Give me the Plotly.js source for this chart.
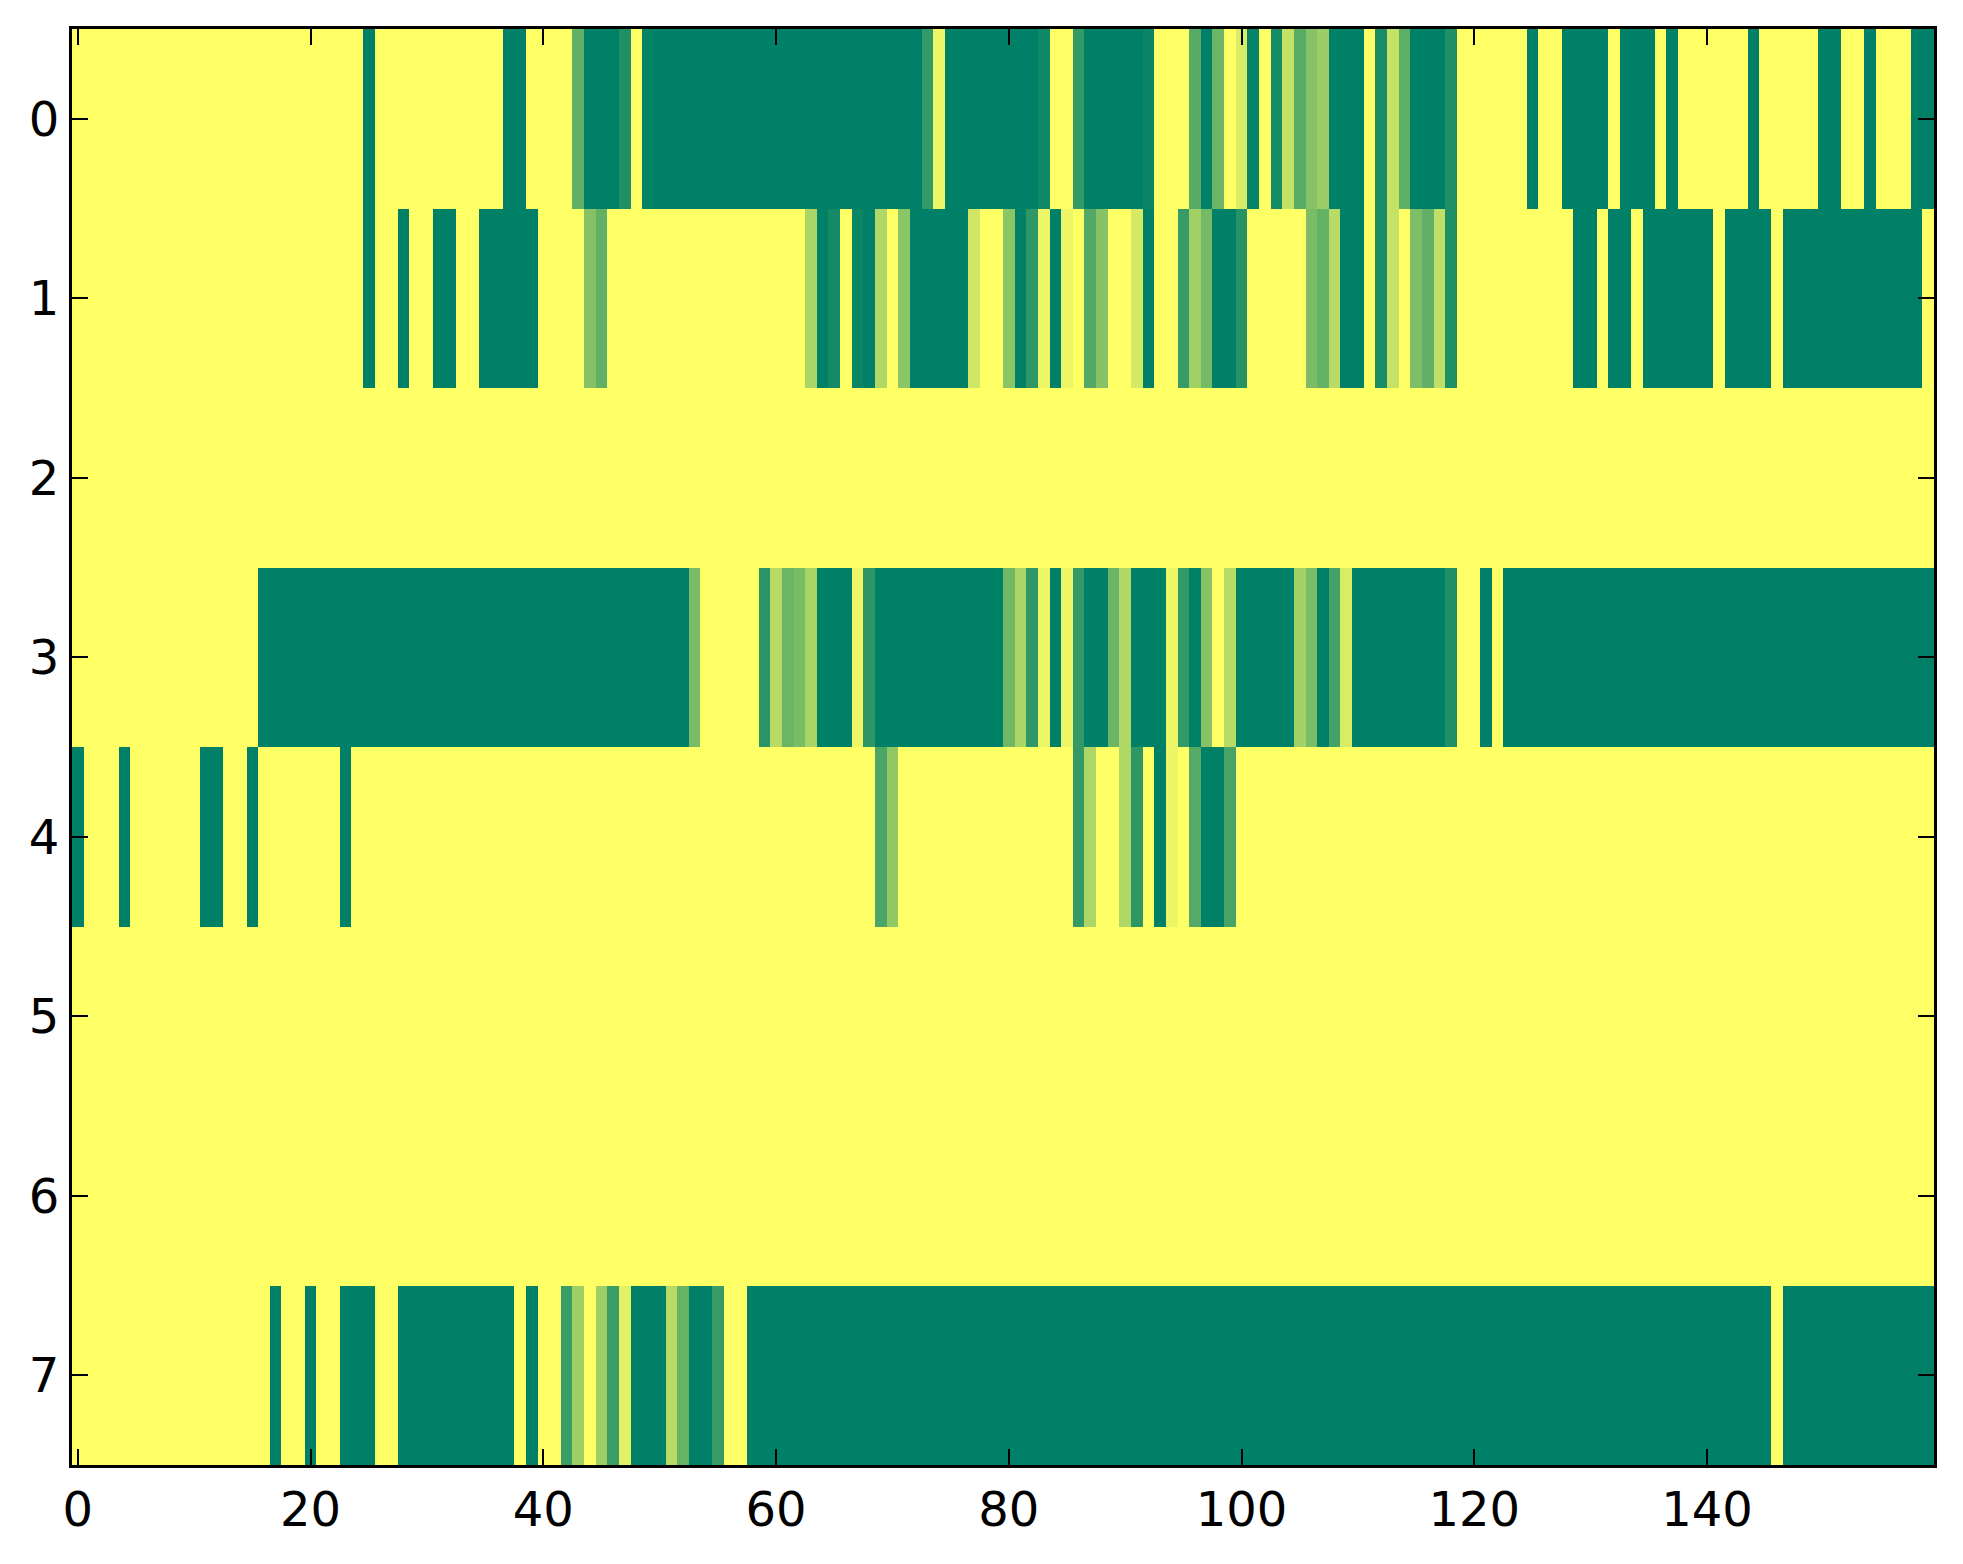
<!DOCTYPE html>
<html>
<head>
<meta charset="utf-8">
<script src="https://cdn.plot.ly/plotly-3.0.1.min.js"></script>
<style>html,body{margin:0;padding:0;background:#fff;}#chart{width:1963px;height:1564px;}</style>
</head>
<body>
<div id="chart"></div>
<script>
// column index 0..159 and row index 0..7
const columns = [0,1,2,3,4,5,6,7,8,9,10,11,12,13,14,15,16,17,18,19,20,21,22,23,24,25,26,27,28,29,30,31,32,33,34,35,36,37,38,39,40,41,42,43,44,45,46,47,48,49,50,51,52,53,54,55,56,57,58,59,60,61,62,63,64,65,66,67,68,69,70,71,72,73,74,75,76,77,78,79,80,81,82,83,84,85,86,87,88,89,90,91,92,93,94,95,96,97,98,99,100,101,102,103,104,105,106,107,108,109,110,111,112,113,114,115,116,117,118,119,120,121,122,123,124,125,126,127,128,129,130,131,132,133,134,135,136,137,138,139,140,141,142,143,144,145,146,147,148,149,150,151,152,153,154,155,156,157,158,159];
const rowsIdx = [0,1,2,3,4,5,6,7];
const xTickVals = [0,20,40,60,80,100,120,140];
const yTickVals = [0,1,2,3,4,5,6,7];

const row0 = [
1,1,1,1,1,1,1,1,1,1,
1,1,1,1,1,1,1,1,1,1,
1,1,1,1,1,0,1,1,1,1,
1,1,1,1,1,1,1,0,0,1,
1,1,1,0.38,0,0,0,0.12,1,0.02,
0,0,0,0,0,0,0,0,0,0,
0,0,0,0,0,0,0,0,0,0,
0,0,0,0.2,0.93,0,0,0,0,0,
0,0,0,0.06,1,1,0.2,0,0,0,
0,0,0.04,1,1,1,0.34,0,0.42,1,
0.85,0.02,1,0.09,0.77,0.35,0.53,0.61,0,0,
0,1,0.1,0.77,0.37,0,0,0,0.12,1,
1,1,1,1,1,0,1,1,0,0,
0,0,1,0,0,0,1,0,1,1,
1,1,1,1,0,1,1,1,1,1,
0,0,1,1,0,1,1,1,0,0];

const row1 = [
1,1,1,1,1,1,1,1,1,1,
1,1,1,1,1,1,1,1,1,1,
1,1,1,1,1,0,1,1,0,1,
1,0,0,1,1,0,0,0,0,0,
1,1,1,1,0.52,0.38,1,1,1,1,
1,1,1,1,1,1,1,1,1,1,
1,1,1,0.67,0,0.08,1,0.04,0,0.69,
1,0.54,0,0,0,0,0,0.81,1,1,
0.54,0,0.18,0.93,0,0.93,1,0.32,0.53,1,
1,0.83,0,1,1,0.21,0.63,0.46,0,0,
0.15,1,1,1,1,1,0.48,0.39,0.72,0,
0,1,0.1,0.77,1,0.49,0.38,0.75,0.12,1,
1,1,1,1,1,1,1,1,1,0,
0,1,0,0,1,0,0,0,0,0,
0,1,0,0,0,0,1,0,0,0,
0,0,0,0,0,0,0,0,0,1];

const row2 = [
1,1,1,1,1,1,1,1,1,1,1,1,1,1,1,1,1,1,1,1,
1,1,1,1,1,1,1,1,1,1,1,1,1,1,1,1,1,1,1,1,
1,1,1,1,1,1,1,1,1,1,1,1,1,1,1,1,1,1,1,1,
1,1,1,1,1,1,1,1,1,1,1,1,1,1,1,1,1,1,1,1,
1,1,1,1,1,1,1,1,1,1,1,1,1,1,1,1,1,1,1,1,
1,1,1,1,1,1,1,1,1,1,1,1,1,1,1,1,1,1,1,1,
1,1,1,1,1,1,1,1,1,1,1,1,1,1,1,1,1,1,1,1,
1,1,1,1,1,1,1,1,1,1,1,1,1,1,1,1,1,1,1,1];

const row3 = [
1,1,1,1,1,1,1,1,1,1,
1,1,1,1,1,1,0,0,0,0,
0,0,0,0,0,0,0,0,0,0,
0,0,0,0,0,0,0,0,0,0,
0,0,0,0,0,0,0,0,0,0,
0,0,0,0.47,1,1,1,1,1,0.16,
0.72,0.42,0.47,0.66,0,0,0,0.94,0.18,0,
0,0,0,0,0,0,0,0,0,0,
0.44,0.67,0.18,0.93,0,0.93,0.2,0,0,0.42,
0.69,0,0,0,0.93,0.2,0,0.53,1,0.72,
0,0,0,0,0,0.64,0.48,0,0.27,0.85,
0,0,0,0,0,0,0,0,0.12,1,
1,0,1,0,0,0,0,0,0,0,
0,0,0,0,0,0,0,0,0,0,
0,0,0,0,0,0,0,0,0,0,
0,0,0,0,0,0,0,0,0,0];

const row4 = [
0,1,1,1,0,1,1,1,1,1,
1,0,0,1,1,0,1,1,1,1,
1,1,1,0,1,1,1,1,1,1,
1,1,1,1,1,1,1,1,1,1,
1,1,1,1,1,1,1,1,1,1,
1,1,1,1,1,1,1,1,1,1,
1,1,1,1,1,1,1,1,1,0.29,
0.57,1,1,1,1,1,1,1,1,1,
1,1,1,1,1,1,0.2,0.68,1,1,
0.69,0.18,1,0,0.92,1,0.33,0,0,0.28,
1,1,1,1,1,1,1,1,1,1,
1,1,1,1,1,1,1,1,1,1,
1,1,1,1,1,1,1,1,1,1,
1,1,1,1,1,1,1,1,1,1,
1,1,1,1,1,1,1,1,1,1,
1,1,1,1,1,1,1,1,1,1];

const row5 = [
1,1,1,1,1,1,1,1,1,1,1,1,1,1,1,1,1,1,1,1,
1,1,1,1,1,1,1,1,1,1,1,1,1,1,1,1,1,1,1,1,
1,1,1,1,1,1,1,1,1,1,1,1,1,1,1,1,1,1,1,1,
1,1,1,1,1,1,1,1,1,1,1,1,1,1,1,1,1,1,1,1,
1,1,1,1,1,1,1,1,1,1,1,1,1,1,1,1,1,1,1,1,
1,1,1,1,1,1,1,1,1,1,1,1,1,1,1,1,1,1,1,1,
1,1,1,1,1,1,1,1,1,1,1,1,1,1,1,1,1,1,1,1,
1,1,1,1,1,1,1,1,1,1,1,1,1,1,1,1,1,1,1,1];

const row6 = [
1,1,1,1,1,1,1,1,1,1,1,1,1,1,1,1,1,1,1,1,
1,1,1,1,1,1,1,1,1,1,1,1,1,1,1,1,1,1,1,1,
1,1,1,1,1,1,1,1,1,1,1,1,1,1,1,1,1,1,1,1,
1,1,1,1,1,1,1,1,1,1,1,1,1,1,1,1,1,1,1,1,
1,1,1,1,1,1,1,1,1,1,1,1,1,1,1,1,1,1,1,1,
1,1,1,1,1,1,1,1,1,1,1,1,1,1,1,1,1,1,1,1,
1,1,1,1,1,1,1,1,1,1,1,1,1,1,1,1,1,1,1,1,
1,1,1,1,1,1,1,1,1,1,1,1,1,1,1,1,1,1,1,1];

const row7 = [
1,1,1,1,1,1,1,1,1,1,
1,1,1,1,1,1,1,0,1,1,
0,1,1,0,0,0,1,1,0,0,
0,0,0,0,0,0,0,0,1,0,
1,1,0.23,0.62,1,0.62,0.23,0.89,0,0,
0,0.72,0.4,0,0,0.22,1,1,0.01,0,
0,0,0,0,0,0,0,0,0,0,
0,0,0,0,0,0,0,0,0,0,
0,0,0,0,0,0,0,0,0,0,
0,0,0,0,0,0,0,0,0,0,
0,0,0,0,0,0,0,0,0,0,
0,0,0,0,0,0,0,0,0,0,
0,0,0,0,0,0,0,0,0,0,
0,0,0,0,0,0,0,0,0,0,
0,0,0,0,0,0,1,0,0,0,
0,0,0,0,0,0,0,0,0,0];

// matplotlib "summer" colormap
const summer = [[0,'rgb(0,128,102)'],[1,'rgb(255,255,102)']];

const trace = {
  type: 'heatmap',
  x: columns,
  y: rowsIdx,
  z: [row0,row1,row2,row3,row4,row5,row6,row7],
  colorscale: summer,
  zmin: 0, zmax: 1,
  showscale: false,
  zsmooth: false,
  hoverinfo: 'skip'
};

const axisCommon = {
  showgrid: false, zeroline: false,
  showline: true, linecolor: '#000', linewidth: 3,
  mirror: 'allticks',
  ticks: 'inside', ticklen: 16, tickwidth: 2, tickcolor: '#000',
  tickfont: {family: 'DejaVu Sans', size: 48, color: '#000'}
};

const layout = {
  width: 1963, height: 1564,
  margin: {l: 72, r: 29, t: 29, b: 99, pad: 0},
  paper_bgcolor: '#fff', plot_bgcolor: '#fff',
  xaxis: Object.assign({}, axisCommon, {
    range: [-0.5, 159.5], tickmode: 'array', tickvals: xTickVals,
    ticktext: xTickVals.map(String)
  }),
  yaxis: Object.assign({}, axisCommon, {
    range: [7.5, -0.5], tickmode: 'array', tickvals: yTickVals,
    ticktext: yTickVals.map(String)
  }),
  showlegend: false
};

Plotly.newPlot('chart', [trace], layout, {displayModeBar: false, staticPlot: true});
</script>
</body>
</html>
